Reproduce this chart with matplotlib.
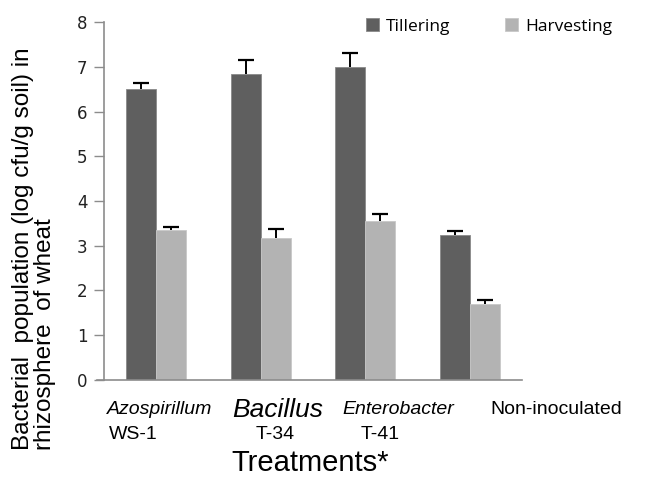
import numpy as np
import matplotlib.pyplot as plt

# data
categories = ['Azospirillum WS-1', 'Bacillus T-34', 'Enterobacter T-41', 'Non-inoculated']
tillering = [6.50, 6.85, 7.00, 3.25]
tillering_err = [0.15, 0.30, 0.30, 0.08]
harvesting = [3.35, 3.17, 3.55, 1.70]
harvesting_err = [0.07, 0.20, 0.15, 0.08]

dark = '#5f5f5f'
light = '#b3b3b3'

fig = plt.figure(figsize=(6.54, 4.82), dpi=100)
ax = fig.add_axes([0.159, 0.212, 0.639, 0.742])

x = np.arange(len(categories))
w = 0.287


def bars_with_err(xs, vals, errs, color, edge, label):
    ax.bar(xs, vals, w, color=color, edgecolor=edge, linewidth=0.6, label=label, zorder=2)
    tops = np.array(vals) + np.array(errs)
    # upper error only, cap on top
    ax.vlines(xs, vals, tops, color='black', linewidth=1.4, zorder=3)
    ax.plot(xs, tops, ls='none', marker='_', markersize=12, mew=1.6, color='black', zorder=3)


bars_with_err(x - w/2, tillering, tillering_err, dark, '#8a8a8a', 'Tillering')
bars_with_err(x + w/2, harvesting, harvesting_err, light, '#c8c8c8', 'Harvesting')

ax.set_xlim(-0.5, 3.5)
ax.set_ylim(0, 8)
ax.set_yticks(range(9))
ax.tick_params(axis='y', length=7, color='#8c8c8c', width=1, labelsize=12, pad=5,
               labelcolor='#222222')
ax.set_xticks([])
for s in ['top', 'right']:
    ax.spines[s].set_visible(False)
ax.spines['left'].set_color('#8c8c8c')
ax.spines['bottom'].set_color('#8c8c8c')
ax.spines['left'].set_linewidth(1.2)
ax.spines['bottom'].set_linewidth(1.2)
ax.spines['bottom'].set_bounds(-0.57, 3.5)

# category labels (genus in italics, strain below)
tr = ax.get_xaxis_transform()
lab_font = 'Liberation Sans'
y1, y2 = -0.083, -0.154
ax.text(0.036, y1, 'Azospirillum', transform=tr, ha='center', va='center', style='italic',
        fontsize=14, family=lab_font)
ax.text(-0.22, y2, 'WS-1', transform=tr, ha='center', va='center', fontsize=14, family=lab_font)
ax.text(1.165, y1, 'Bacillus', transform=tr, ha='center', va='center', style='italic',
        fontsize=19, family=lab_font)
ax.text(1.14, y2, 'T-34', transform=tr, ha='center', va='center', fontsize=14, family=lab_font)
ax.text(2.32, y1, 'Enterobacter', transform=tr, ha='center', va='center', style='italic',
        fontsize=14, family=lab_font)
ax.text(2.14, y2, 'T-41', transform=tr, ha='center', va='center', fontsize=14, family=lab_font)
ax.text(3.83, y1, 'Non-inoculated', transform=tr, ha='center', va='center',
        fontsize=14, family=lab_font)

fig.text(0.474, 0.04, 'Treatments*', ha='center', va='center', fontsize=21, family=lab_font)
fig.text(0.052, 0.485, 'Bacterial  population (log cfu/g soil) in\nrhizosphere  of wheat', rotation=90,
         ha='center', va='center', multialignment='left', fontsize=17.5, family=lab_font,
         linespacing=1.0)

fig.legend(loc='center left', bbox_to_anchor=(0.535, 0.945), ncol=2, frameon=False,
           handlelength=0.75, handleheight=0.75, handletextpad=0.4, columnspacing=3.2,
           prop=dict(family='Open Sans', size=12.5))

fig.savefig('out.png', dpi=100)
